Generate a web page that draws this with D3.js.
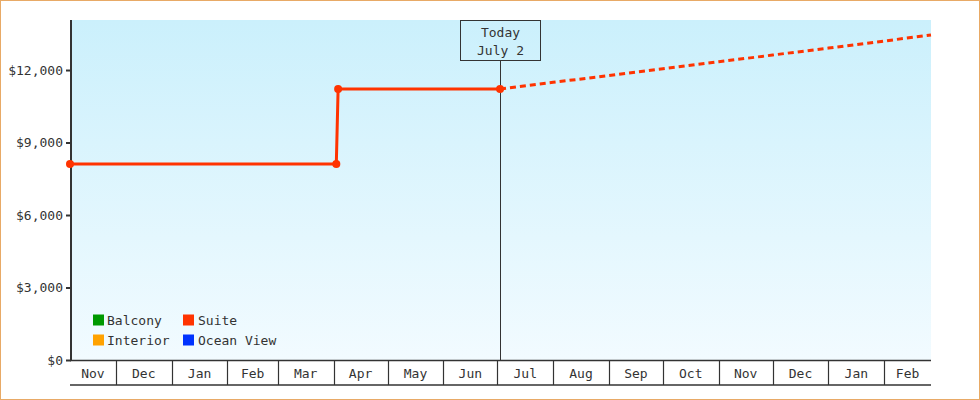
<!DOCTYPE html>
<html>
<head>
<meta charset="utf-8">
<script src="https://cdn.jsdelivr.net/npm/d3@7/dist/d3.min.js"></script>
<style>
  html, body { margin: 0; padding: 0; background: #fff; }
  svg { display: block; }
  text { font-family: "DejaVu Sans Mono", monospace; font-size: 13px; fill: #333; }
</style>
</head>
<body>
<svg id="chart" width="980" height="400"></svg>
<script>
// ---- data ----
const domainDates = ["2024-11-05T12:00", "2026-02-27T00:00"];
const todayDate = "2025-07-02T12:00";
const todayLabel = ["Today", "July 2"];

const suiteDates  = ["2024-11-05T12:00", "2025-04-02T12:00", "2025-04-03T12:00", "2025-07-02T12:00"];
const suiteValues = [8110, 8110, 11210, 11210];

const forecastDates  = ["2025-07-02T12:00", "2025-08-01", "2025-09-01", "2025-10-01", "2025-11-01", "2025-12-01", "2026-01-01", "2026-02-01", "2026-02-27"];
const forecastValues = [11210, 11490, 11770, 12050, 12340, 12620, 12910, 13200, 13450];

const yTicks = [0, 3000, 6000, 9000, 12000];
const yMax = 14070;

const legendNames  = ["Balcony", "Interior", "Suite", "Ocean View"];
const legendColors = ["#009900", "#ffa200", "#ff3300", "#0033ff"];

// ---- layout ----
const pL = 70, pR = 931, pT = 20, pB = 360;
const parse = d => new Date(d + (d.length === 10 ? "T00:00Z" : "Z"));

const svg = d3.select("#chart");

const x = d3.scaleUtc().domain(domainDates.map(parse)).range([pL, pR]);
const y = d3.scaleLinear().domain([0, yMax]).range([pB, pT]);

// border
svg.append("rect").attr("x", 0.5).attr("y", 0.5).attr("width", 979).attr("height", 399)
  .attr("fill", "#fff").attr("stroke", "#e8aa66").attr("stroke-width", 1);

// background gradient
const defs = svg.append("defs");
const grad = defs.append("linearGradient").attr("id", "bg").attr("x1", 0).attr("y1", 0).attr("x2", 0).attr("y2", 1);
grad.append("stop").attr("offset", "0%").attr("stop-color", "rgb(203,240,252)");
grad.append("stop").attr("offset", "100%").attr("stop-color", "rgb(242,251,255)");
svg.append("rect").attr("x", pL).attr("y", pT).attr("width", pR - pL).attr("height", pB - pT)
  .attr("fill", "url(#bg)");

// y axis
const yAxis = d3.axisLeft(y).tickValues(yTicks).tickSize(5).tickPadding(3)
  .tickFormat(d => "$" + d3.format(",")(d));
const gy = svg.append("g").attr("transform", `translate(${pL + 1},0)`).call(yAxis);
gy.select(".domain").remove();
gy.selectAll(".tick line").attr("stroke", "#333").attr("stroke-width", 2);
gy.selectAll(".tick text").style("font-family", "DejaVu Sans Mono, monospace").style("font-size", "13px").attr("fill", "#333");
svg.append("line").attr("x1", pL + 1).attr("x2", pL + 1).attr("y1", pT).attr("y2", pB)
  .attr("stroke", "#333").attr("stroke-width", 2);

// x month bands
const [d0, d1] = x.domain();
const months = d3.utcMonth.range(d3.utcMonth.floor(d0), d1);
const gx = svg.append("g");
gx.append("line").attr("x1", pL).attr("x2", pR).attr("y1", pB + 0.5).attr("y2", pB + 0.5)
  .attr("stroke", "#333").attr("stroke-width", 1.5);
gx.append("line").attr("x1", pL).attr("x2", pR).attr("y1", 385).attr("y2", 385)
  .attr("stroke", "#333").attr("stroke-width", 1.5);
months.forEach(m => {
  const s = m < d0 ? d0 : m;
  const e0 = d3.utcMonth.offset(m, 1);
  const e = e0 > d1 ? d1 : e0;
  const xs = x(s), xe = x(e);
  if (m >= d0) {
    gx.append("line").attr("x1", Math.round(xs) + 0.5).attr("x2", Math.round(xs) + 0.5)
      .attr("y1", pB).attr("y2", 385).attr("stroke", "#333").attr("stroke-width", 1.2);
  }
  gx.append("text").attr("x", (xs + xe) / 2).attr("y", 373).attr("dy", "0.35em")
    .attr("text-anchor", "middle").text(d3.utcFormat("%b")(m));
});

// today marker
const tx = Math.round(x(parse(todayDate))) + 0.5;
svg.append("line").attr("x1", tx).attr("x2", tx).attr("y1", 60).attr("y2", pB)
  .attr("stroke", "#333").attr("stroke-width", 1);
svg.append("rect").attr("x", tx - 40).attr("y", pT + 0.5).attr("width", 80).attr("height", 40)
  .attr("fill", "none").attr("stroke", "#333").attr("stroke-width", 1);
svg.append("text").attr("x", tx).attr("y", 32).attr("dy", "0.35em").attr("text-anchor", "middle").text(todayLabel[0]);
svg.append("text").attr("x", tx).attr("y", 50).attr("dy", "0.35em").attr("text-anchor", "middle").text(todayLabel[1]);

// suite line
const suite = suiteDates.map((d, i) => ({ d: parse(d), v: suiteValues[i] }));
const forecast = forecastDates.map((d, i) => ({ d: parse(d), v: forecastValues[i] }));
const line = d3.line().x(p => x(p.d)).y(p => y(p.v));

svg.append("path").datum(forecast).attr("d", line).attr("fill", "none")
  .attr("stroke", "#ff3300").attr("stroke-width", 3).attr("stroke-dasharray", "6,4");
svg.append("path").datum(suite).attr("d", line).attr("fill", "none")
  .attr("stroke", "#ff3300").attr("stroke-width", 3);
svg.append("g").selectAll("circle").data(suite).join("circle")
  .attr("cx", p => x(p.d)).attr("cy", p => y(p.v)).attr("r", 4).attr("fill", "#ff3300");

// legend
const lg = svg.append("g");
legendNames.forEach((name, i) => {
  const col = Math.floor(i / 2), row = i % 2;
  const lx = 93 + col * 90, ly = 320 + row * 20;
  lg.append("rect").attr("x", lx).attr("y", ly - 5.5).attr("width", 11).attr("height", 11).attr("fill", legendColors[i]);
  lg.append("text").attr("x", lx + 14 + col).attr("y", ly).attr("dy", "0.35em").text(name);
});
</script>
</body>
</html>
